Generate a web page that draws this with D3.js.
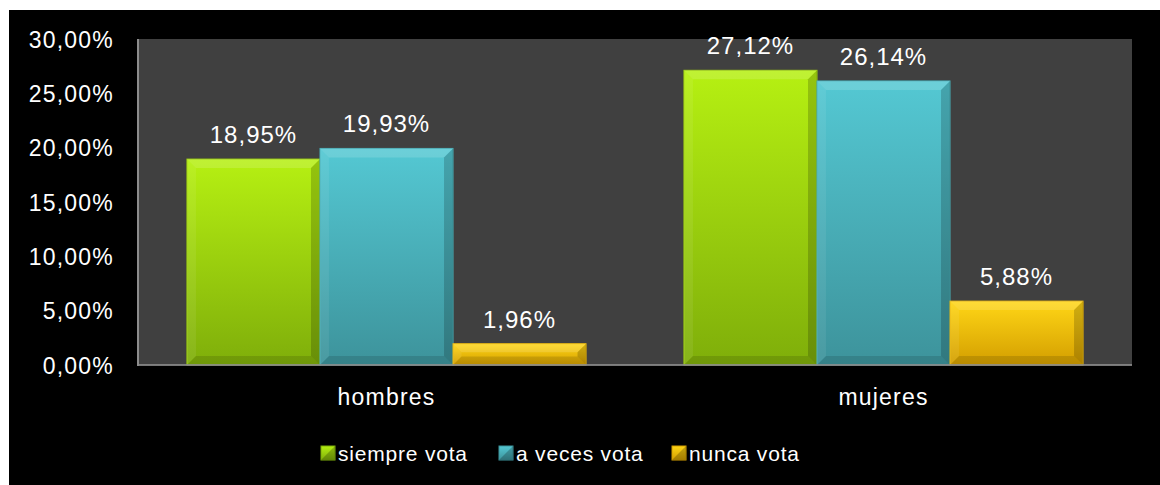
<!DOCTYPE html>
<html>
<head>
<meta charset="UTF-8">
<title>Voto por sexo</title>
<script src="https://cdn.jsdelivr.net/npm/d3@7"></script>
<style>
body { margin: 0; background: #fff; }
text { font-family: "Liberation Sans", Arial, sans-serif; fill: #fff; }
</style>
</head>
<body>
<div id="chart"></div>
<script>
// data
var categories = ["hombres", "mujeres"];
var series = ["siempre vota", "a veces vota", "nunca vota"];
var siempre = [0.1895, 0.2712];
var aVeces = [0.1993, 0.2614];
var nunca = [0.0196, 0.0588];
var yTicks = [0, 0.05, 0.10, 0.15, 0.20, 0.25, 0.30];

// colours: gradient top, gradient bottom
var colors = [
  { top: "#b6f012", bot: "#7fae0a", edge: "#9ed00e" },
  { top: "#54c8d3", bot: "#3d939b", edge: "#47adb6" },
  { top: "#ffd616", bot: "#d39e00", edge: "#e9b60a" }
];

var W = 1160, H = 485;
var plot = { left: 138, right: 1132, top: 39, bottom: 365 };

var svg = d3.select("#chart").append("svg")
  .attr("width", W).attr("height", H);

// black card
svg.append("rect").attr("x", 9).attr("y", 10)
  .attr("width", W - 9).attr("height", H - 10).attr("fill", "#000");

var defs = svg.append("defs");
colors.forEach(function(c, i) {
  var g = defs.append("linearGradient").attr("id", "grad" + i)
    .attr("x1", 0).attr("y1", 0).attr("x2", 0).attr("y2", 1);
  g.append("stop").attr("offset", "0%").attr("stop-color", c.top);
  g.append("stop").attr("offset", "100%").attr("stop-color", c.bot);
});

var loc = d3.formatLocale({ decimal: ",", thousands: ".", grouping: [3], currency: ["", "€"] });
var pct = loc.format(".2%");

var x0 = d3.scaleBand().domain(categories).range([plot.left, plot.right]);
var x1 = d3.scaleBand().domain(series).range([0, x0.bandwidth()]).paddingOuter(0.368);
var y = d3.scaleLinear().domain([0, 0.30]).range([plot.bottom, plot.top]);

// plot area
svg.append("rect").attr("x", plot.left).attr("y", plot.top)
  .attr("width", plot.right - plot.left).attr("height", plot.bottom - plot.top)
  .attr("fill", "#404040");

// y axis labels
var yAxis = svg.append("g").attr("transform", "translate(" + (plot.left - 24) + ",0)")
  .call(d3.axisLeft(y).tickValues(yTicks).tickFormat(pct).tickSize(0).tickPadding(0));
yAxis.select(".domain").remove();
yAxis.selectAll("text")
  .attr("fill", "#fff").style("font-size", "23px").style("letter-spacing", "1.2px")
  .attr("dy", "0.36em");

var rows = [siempre, aVeces, nunca];
var data = [];
categories.forEach(function(cat, ci) {
  series.forEach(function(s, si) {
    data.push({ cat: cat, s: s, si: si, v: rows[si][ci] });
  });
});

var bars = svg.append("g").selectAll("g.bar").data(data).enter().append("g").attr("class", "bar");

bars.each(function(d) {
  var g = d3.select(this);
  var bx = x0(d.cat) + x1(d.s), bw = x1.bandwidth();
  var by = y(d.v), bh = plot.bottom - by;
  var b = Math.min(9, bh * 0.4);
  g.append("rect").attr("x", bx).attr("y", by).attr("width", bw).attr("height", bh)
    .attr("fill", "url(#grad" + d.si + ")")
    .attr("stroke", colors[d.si].edge).attr("stroke-width", 1);
  var x2 = bx + bw, y2 = by + bh;
  // bevel pieces
  var pieces = [
    { p: [[bx, by], [x2, by], [x2 - b, by + b], [bx + b, by + b]], f: "#fff", o: 0.14 },
    { p: [[bx, by], [bx + b, by + b], [bx + b, y2 - b], [bx, y2]], f: "#fff", o: 0.07 },
    { p: [[x2, by], [x2, y2], [x2 - b, y2 - b], [x2 - b, by + b]], f: "#000", o: 0.18 },
    { p: [[bx, y2], [bx + b, y2 - b], [x2 - b, y2 - b], [x2, y2]], f: "#000", o: 0.12 }
  ];
  pieces.forEach(function(pc) {
    g.append("polygon").attr("points", pc.p.map(function(q) { return q.join(","); }).join(" "))
      .attr("fill", pc.f).attr("fill-opacity", pc.o);
  });
  g.append("text").attr("x", bx + bw / 2).attr("y", by - 16)
    .attr("text-anchor", "middle").style("font-size", "24px").style("letter-spacing", "1px")
    .text(pct(d.v));
});

// axis lines
svg.append("line").attr("x1", plot.left).attr("x2", plot.left)
  .attr("y1", plot.top).attr("y2", plot.bottom + 1)
  .attr("stroke", "#8c8c8c").attr("stroke-width", 2);
svg.append("line").attr("x1", plot.left - 1).attr("x2", plot.right)
  .attr("y1", plot.bottom).attr("y2", plot.bottom)
  .attr("stroke", "#8c8c8c").attr("stroke-width", 2).attr("stroke-opacity", 0.85);

// category labels
svg.append("g").selectAll("text").data(categories).enter().append("text")
  .attr("x", function(d) { return x0(d) + x0.bandwidth() / 2; })
  .attr("y", 405).attr("text-anchor", "middle")
  .style("font-size", "23px").style("letter-spacing", "1.2px")
  .text(function(d) { return d; });

// legend
var legendX = [321, 499, 672];
var lg = svg.append("g").selectAll("g").data(series).enter().append("g")
  .attr("transform", function(d, i) { return "translate(" + legendX[i] + ",446)"; });
lg.append("rect").attr("width", 14).attr("height", 14)
  .attr("fill", function(d, i) { return "url(#grad" + i + ")"; })
  .attr("stroke", function(d, i) { return colors[i].bot; }).attr("stroke-width", 1);
lg.append("polygon").attr("points", "0,14 14,0 14,14")
  .attr("fill", "#000").attr("fill-opacity", 0.22);
lg.append("text").attr("x", 17).attr("y", 14.5)
  .style("font-size", "21px").style("letter-spacing", "0.8px")
  .text(function(d) { return d; });
</script>
</body>
</html>
